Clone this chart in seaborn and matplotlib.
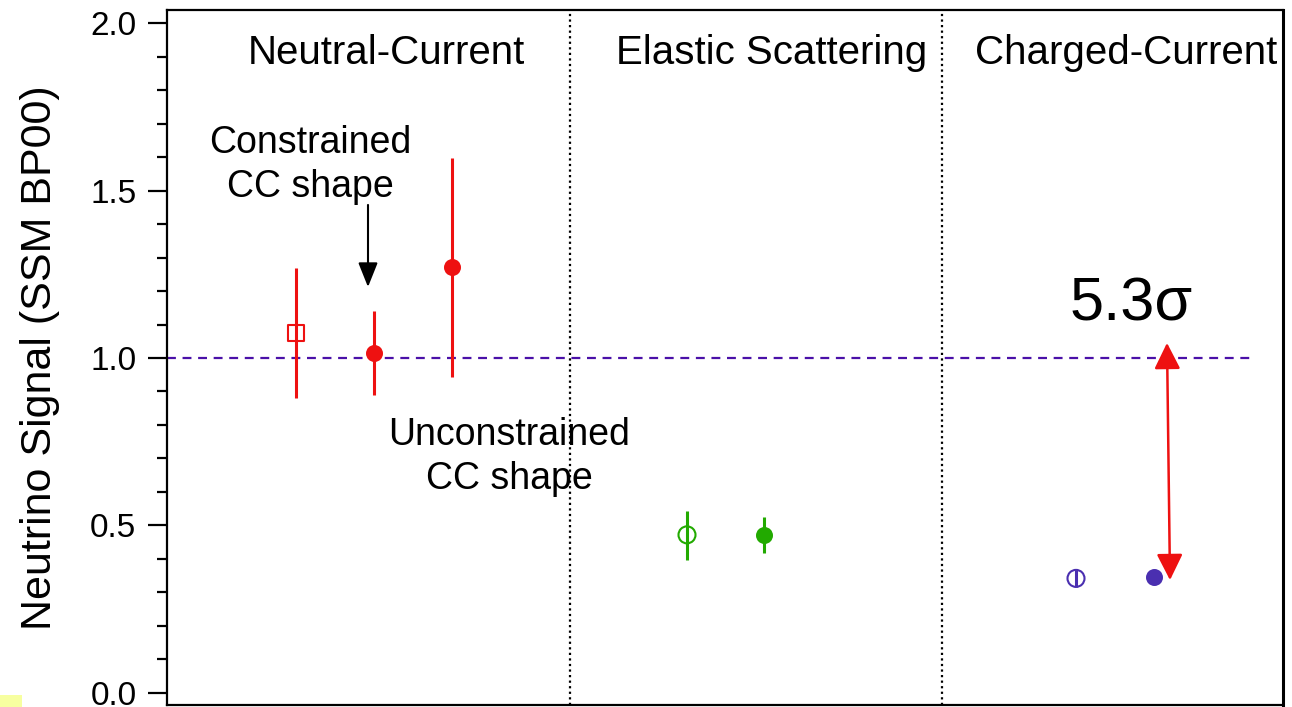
import numpy as np
import pandas as pd
import matplotlib
matplotlib.use("Agg")
import matplotlib.pyplot as plt
from matplotlib.patches import Rectangle
import seaborn as sns

# ---- data ----
sections = ["Neutral-Current", "Elastic Scattering", "Charged-Current"]
section_label_x = [2.19, 6.05, 9.59]
dividers = [4.03, 7.75]

point_names = ["NC square", "NC constrained", "NC unconstrained",
               "ES open", "ES filled", "CC open", "CC filled"]
point_x = [1.29, 2.07, 2.85, 5.20, 5.97, 9.09, 9.87]
point_value = [1.075, 1.014, 1.271, 0.472, 0.472, 0.342, 0.345]
err_low = [0.881, 0.889, 0.942, 0.397, 0.419, 0.317, 0.333]
err_high = [1.269, 1.140, 1.597, 0.544, 0.524, 0.367, 0.357]
point_color = ["#ee1111", "#ee1111", "#ee1111", "#22aa00", "#22aa00", "#4a2fb0", "#4a2fb0"]
point_marker = ["s", "o", "o", "o", "o", "o", "o"]
point_filled = [False, True, True, False, True, False, True]

ssm_reference = 1.0
sigma_label = "5.3σ"

sns.set_theme(style="ticks")
plt.rcParams["font.family"] = ["Liberation Sans", "DejaVu Sans"]
plt.rcParams["text.color"] = "black"
plt.rcParams["axes.labelcolor"] = "black"
plt.rcParams["ytick.color"] = "black"
plt.rcParams["xtick.color"] = "black"

fig = plt.figure(figsize=(12.92, 7.07), dpi=100)
ax = fig.add_axes([167/1292, 2/707, (1283-167)/1292, (705-10)/707])

df = pd.DataFrame({"x": point_x, "y": point_value, "lo": err_low, "hi": err_high,
                   "c": point_color, "m": point_marker, "f": point_filled})

# error bars
for _, r in df.iterrows():
    ax.vlines(r.x, r.lo, r.hi, color=r.c, lw=2.2, zorder=3)

# markers via seaborn
for _, r in df.iterrows():
    sub = df[(df.x == r.x)]
    sns.scatterplot(data=sub, x="x", y="y", ax=ax, marker=r.m,
                    s=150 if r.m == "o" else 130,
                    color=r.c if r.f else "none",
                    edgecolor=r.c, linewidth=1.5 if not r.f else 0,
                    zorder=4, legend=False)

# reference line
ax.plot([0, 10.83], [ssm_reference, ssm_reference], ls=(0, (4, 3)), color="#4a10a8", lw=1.6, zorder=2)

# dividers
for d in dividers:
    ax.axvline(d, color="black", ls=(0, (1, 1.5)), lw=1.6, zorder=1)

# section titles
for s, sx in zip(sections, section_label_x):
    ax.text(sx, 1.91, s, ha="center", va="center", fontsize=29)

# annotations
ax.text(1.43, 1.576, "Constrained\nCC shape", ha="center", va="center", fontsize=27, linespacing=1.3)
ax.text(3.42, 0.704, "Unconstrained\nCC shape", ha="center", va="center", fontsize=27, linespacing=1.3)
ax.annotate("", xy=(2.01, 1.212), xytext=(2.01, 1.457),
            arrowprops=dict(arrowstyle="-|>,head_length=0.75,head_width=0.3", color="black",
                            lw=1.5, mutation_scale=20, shrinkA=0, shrinkB=0))
ax.annotate("", xy=(10.03, 0.337), xytext=(10.0, 1.045),
            arrowprops=dict(arrowstyle="<|-|>,head_length=0.8,head_width=0.4", color="#ee1111",
                            lw=1.8, mutation_scale=20, shrinkA=0, shrinkB=0))
ax.text(9.03, 1.113, sigma_label, ha="left", va="baseline", fontsize=44)

# axes
ax.set_xlim(0, 11.16)
ax.set_ylim(-0.036, 2.039)
ax.set_yticks([0.0, 0.5, 1.0, 1.5, 2.0])
ax.set_yticklabels(["0.0", "0.5", "1.0", "1.5", "2.0"], fontsize=24)
ax.set_yticks(np.arange(0, 2.01, 0.1), minor=True)
ax.set_xticks([])
ax.set_xlabel("")
ax.set_ylabel("Neutrino Signal (SSM BP00)", fontsize=31, labelpad=22)
ax.tick_params(axis="y", which="major", direction="out", length=14, width=1.6, color="black", pad=8)
ax.tick_params(axis="y", which="minor", direction="out", length=7.5, width=1.6, color="black")
for sp in ax.spines.values():
    sp.set_visible(True)
    sp.set_color("black")
    sp.set_linewidth(1.6)
ax.spines["right"].set_linewidth(2.2)

fig.patches.append(Rectangle((0, 0), 22/1292, 12/707, transform=fig.transFigure,
                             facecolor="#f7ffa0", edgecolor="none", zorder=0))

fig.savefig("out.png", dpi=100)
